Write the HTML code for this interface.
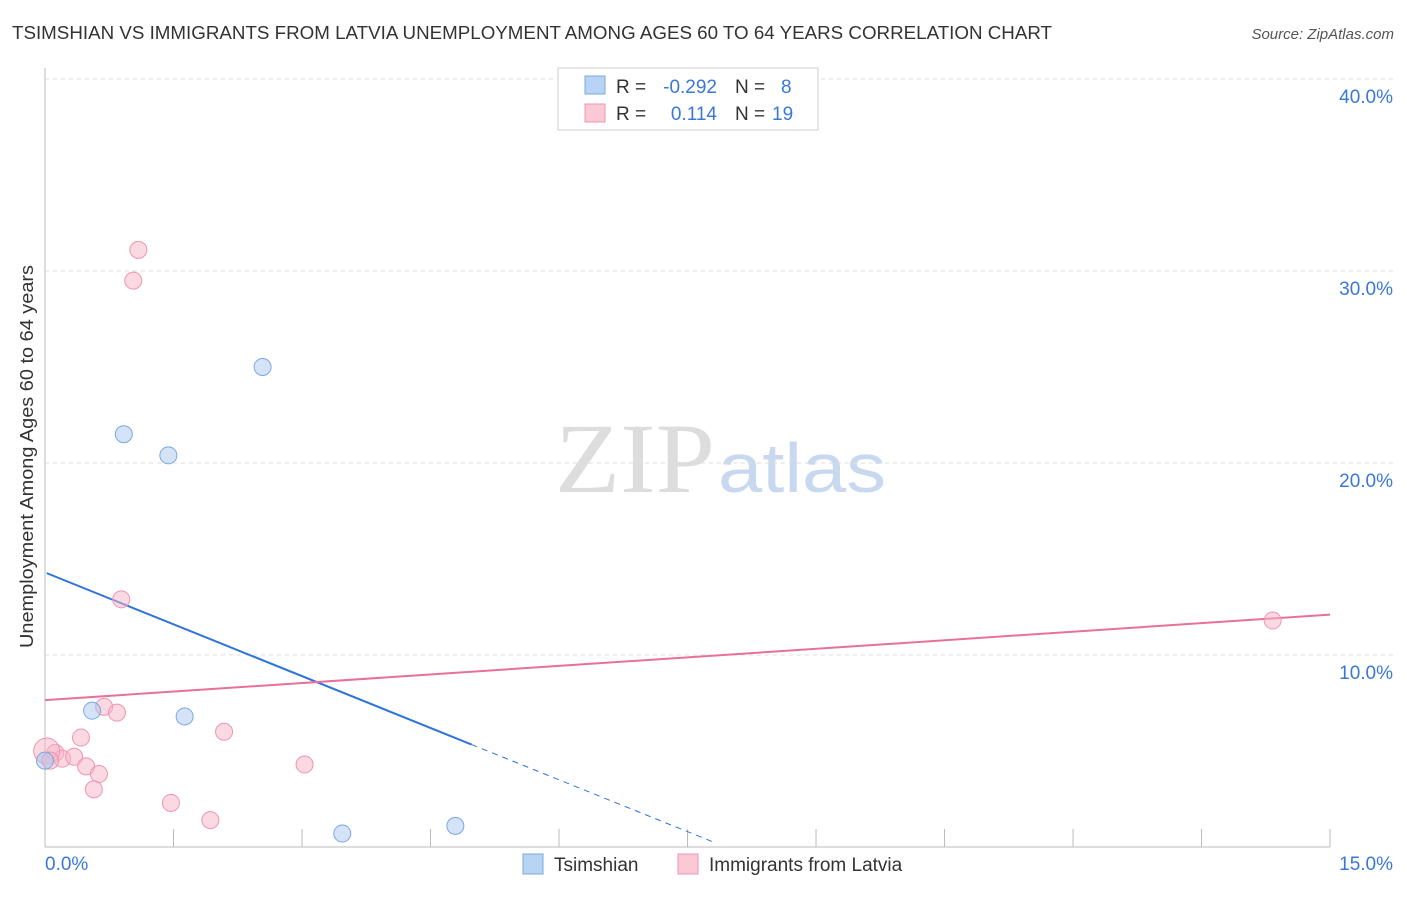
<!DOCTYPE html>
<html><head><meta charset="utf-8"><style>
body{margin:0;background:#fff;font-family:"Liberation Sans",sans-serif;}
</style></head><body>
<svg id="chart" width="1406" height="892" xmlns="http://www.w3.org/2000/svg" font-family="Liberation Sans, sans-serif">
<text x="12" y="39" font-size="18" fill="#333" textLength="1040" lengthAdjust="spacingAndGlyphs">TSIMSHIAN VS IMMIGRANTS FROM LATVIA UNEMPLOYMENT AMONG AGES 60 TO 64 YEARS CORRELATION CHART</text>
<text x="1394" y="39" font-size="15" fill="#555" text-anchor="end" font-style="italic">Source: ZipAtlas.com</text>
<text x="33" y="648" font-size="18" fill="#333" textLength="383" lengthAdjust="spacingAndGlyphs" transform="rotate(-90 33 648)">Unemployment Among Ages 60 to 64 years</text>
<text x="555" y="492" font-size="100" fill="#ddd" style="font-family:'Liberation Serif',serif" textLength="160" lengthAdjust="spacingAndGlyphs">ZIP</text>
<text x="718" y="492" font-size="70" fill="#c8d8ef" textLength="168" lengthAdjust="spacingAndGlyphs">atlas</text>
<g id="grid"></g><g id="lines"></g><g id="pts"></g>
<g font-size="19">
<rect x="558" y="68" width="260" height="62" fill="#fff" stroke="#ccc"/>
<rect x="585" y="76" width="20" height="18" fill="#b8d4f5" stroke="#7aa8e0"/>
<rect x="585" y="104" width="20" height="18" fill="#fbc8d6" stroke="#f094b0"/>
<text x="616" y="93" fill="#333">R =</text>
<text x="717" y="93" fill="#3a78d8" text-anchor="end">-0.292</text>
<text x="735" y="93" fill="#333">N =</text>
<text x="781" y="93" fill="#3a78d8">8</text>
<text x="616" y="120" fill="#333">R =</text>
<text x="717" y="120" fill="#3a78d8" text-anchor="end">0.114</text>
<text x="735" y="120" fill="#333">N =</text>
<text x="772" y="120" fill="#3a78d8">19</text>
</g>
<g>
<rect x="523" y="854" width="20" height="20" fill="#b8d4f5" stroke="#7aa8e0"/>
<text x="554" y="871" font-size="19" fill="#333">Tsimshian</text>
<rect x="678" y="854" width="20" height="20" fill="#fbc8d6" stroke="#f094b0"/>
<text x="709" y="871" font-size="19" fill="#333">Immigrants from Latvia</text>
</g>
</svg>
<script>
const xTicks=[0,15];
const yTicks=[10,20,30,40];
const blueX=[0.55,0.92,1.44,1.63,2.54,3.47,4.79,0.0];
const blueY=[7.1,21.5,20.4,6.8,25.0,0.7,1.1,4.5];
const pinkX=[1.09,1.03,0.89,0.69,0.84,2.09,0.42,0.12,0.2,0.34,0.48,0.63,0.57,1.47,1.93,3.03,14.33,0.02,0.06];
const pinkY=[31.1,29.5,12.9,7.3,7.0,6.0,5.7,4.9,4.6,4.7,4.2,3.8,3.0,2.3,1.4,4.3,11.8,5.0,4.5];
const blueLine=[14.3,-1.8];
const pinkLine=[7.65,0.297];
const X=v=>45+v*85.67, Y=v=>847-v*19.2;
const NS="http://www.w3.org/2000/svg";
function mk(t,a,p){const e=document.createElementNS(NS,t);for(const k in a)e.setAttribute(k,a[k]);document.getElementById(p).appendChild(e);return e;}
const ax=mk('line',{x1:45,y1:68,x2:45,y2:847,stroke:'#bbb'},'grid');


const bx=mk('line',{x1:45,y1:847,x2:1330,y2:847,stroke:'#bbb'},'grid');


for(let i=0;i<=10;i++){const t=mk('line',{x1:X(i*1.5),y1:829,x2:X(i*1.5),y2:847,stroke:'#bbb'},'grid');

}
yTicks.forEach(v=>{const g=mk('line',{x1:45,y1:Y(v),x2:1393,y2:Y(v),stroke:'#ddd','stroke-dasharray':'4,4'},'grid');


const t=mk('text',{x:1393,y:Y(v)+24,'font-size':19,fill:'#3a78d8','text-anchor':'end'},'grid');t.textContent=v.toFixed(1)+'%';

});
xTicks.forEach((v,i)=>{const t=mk('text',{x:i?1393:45,y:870,'font-size':19,fill:'#3a78d8','text-anchor':i?'end':'start'},'grid');t.textContent=v.toFixed(1)+'%';

});
const bl=mk('line',{x1:X(0.02),y1:Y(blueLine[0]+blueLine[1]*0.02),x2:X(4.98),y2:Y(blueLine[0]+blueLine[1]*4.98),stroke:'#2f74d8','stroke-width':2},'lines');


const bd=mk('line',{x1:X(4.98),y1:Y(blueLine[0]+blueLine[1]*4.98),x2:X(7.83),y2:Y(blueLine[0]+blueLine[1]*7.83),stroke:'#2f74d8','stroke-width':1,'stroke-dasharray':'6,5'},'lines');


const pl=mk('line',{x1:X(0),y1:Y(pinkLine[0]),x2:X(15),y2:Y(pinkLine[0]+pinkLine[1]*15),stroke:'#e8709a','stroke-width':2},'lines');


pinkX.forEach((x,i)=>{const c=mk('circle',{cx:X(x),cy:Y(pinkY[i]),r:i==17?13:8.5,fill:'rgba(248,180,200,0.5)',stroke:'#f094b0'},'pts');

});
blueX.forEach((x,i)=>{const c=mk('circle',{cx:X(x),cy:Y(blueY[i]),r:8.5,fill:'rgba(170,200,240,0.5)',stroke:'#7aa8e0'},'pts');

});
</script>
</body></html>
